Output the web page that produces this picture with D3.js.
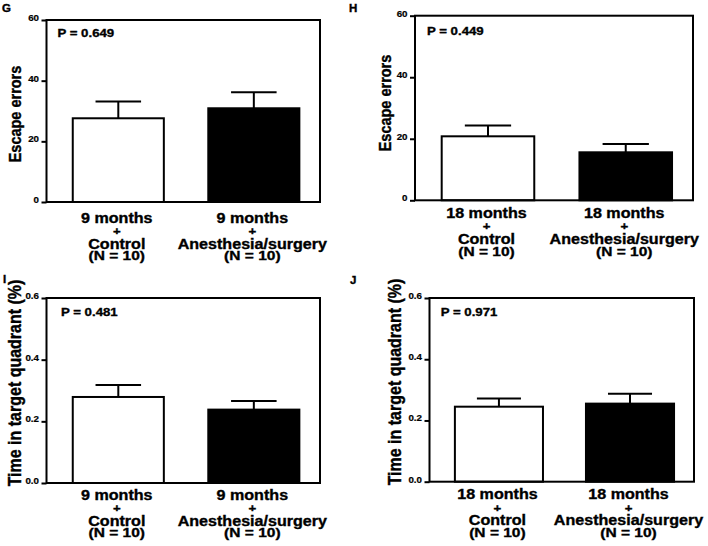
<!DOCTYPE html>
<html>
<head>
<meta charset="utf-8">
<script src="https://cdn.jsdelivr.net/npm/d3@7"></script>
<style>
  html, body { margin: 0; padding: 0; background: #fff; }
  svg { display: block; }
  text { font-family: "Liberation Sans", Arial, Helvetica, sans-serif; font-weight: bold; fill: #000;
         stroke: #000; stroke-width: 0.35px; }
</style>
</head>
<body>
<svg id="chart" width="708" height="546"></svg>
<script>
// ---------------- DATA ----------------
const groups9 = [["9 months", "+", "Control", "(N = 10)"], ["9 months", "+", "Anesthesia/surgery", "(N = 10)"]];
const groups18 = [["18 months", "+", "Control", "(N = 10)"], ["18 months", "+", "Anesthesia/surgery", "(N = 10)"]];

const escape9Mean = [27.6, 30.9];
const escape9Sem = [5.5, 5.3];
const escape18Mean = [20.8, 15.6];
const escape18Sem = [3.5, 2.7];
const time9Mean = [0.279, 0.238];
const time9Sem = [0.039, 0.028];
const time18Mean = [0.245, 0.255];
const time18Sem = [0.027, 0.032];

const escapeTicks = [0, 20, 40, 60];
const timeTicks = [0, 0.2, 0.4, 0.6];
const pLabels = ["P = 0.649", "P = 0.449", "P = 0.481", "P = 0.971"];
const panelLetters = ["G", "H", "I", "J"];
const yTitles = ["Escape errors", "Escape errors", "Time in target quadrant (%)", "Time in target quadrant (%)"];
const barFills = ["#fff", "#000"];

// ---------------- LAYOUT ----------------
const SX = 1.15; // horizontal stretch of the source figure
const panels = [
  { letter: panelLetters[0], groups: groups9, mean: escape9Mean, sem: escape9Sem, ticks: escapeTicks, fmt: d3.format("d"),
    title: yTitles[0], p: pLabels[0],
    x0: 46.5, x1: 320, yTop: 20, yBot: 202, lx: 2, ly: 12,
    tx: 20.5, ty: 114, tSize: 14.5, px: 11, py: 16.8, cy: 20.7 },
  { letter: panelLetters[1], groups: groups18, mean: escape18Mean, sem: escape18Sem, ticks: escapeTicks, fmt: d3.format("d"),
    title: yTitles[1], p: pLabels[1],
    x0: 415, x1: 693, yTop: 15.7, yBot: 200.3, lx: 349, ly: 12,
    tx: 391, ty: 103, tSize: 14.5, px: 12, py: 19.3, cy: 17.7 },
  { letter: panelLetters[2], groups: groups9, mean: time9Mean, sem: time9Sem, ticks: timeTicks, fmt: d3.format(".1f"),
    title: yTitles[2], p: pLabels[2],
    x0: 46.5, x1: 320, yTop: 298, yBot: 483, lx: 3, ly: 283,
    tx: 20.5, ty: 383, tSize: 16, px: 14.5, py: 18.3, cy: 16.7 },
  { letter: panelLetters[3], groups: groups18, mean: time18Mean, sem: time18Sem, ticks: timeTicks, fmt: d3.format(".1f"),
    title: yTitles[3], p: pLabels[3],
    x0: 429.5, x1: 694, yTop: 298, yBot: 481.7, lx: 350, ly: 284,
    tx: 401, ty: 382, tSize: 16, px: 11.2, py: 18.3, cy: 17.6 }
];

const lineOffsets = [0, 12.2, 25.8, 37.6];
const lineSizes = [14, 11.5, 14, 13.5];

const svg = d3.select("#chart");

function stretchedText(parent, x, y, str, size, anchor) {
  const g = parent.append("g").attr("transform", `translate(${x},${y}) scale(${SX},1)`);
  g.append("text").attr("x", 0).attr("y", 0)
    .attr("text-anchor", anchor || "start")
    .style("font-size", size + "px")
    .text(str);
  return g;
}

panels.forEach(P => {
  const g = svg.append("g");
  const y = d3.scaleLinear().domain([0, P.ticks[P.ticks.length - 1]]).range([P.yBot, P.yTop]);
  const x = d3.scaleBand().domain([0, 1]).range([P.x0, P.x1])
    .paddingInner(0.328).paddingOuter(0.173).align(0.56);

  // bars
  g.selectAll("rect.bar").data(P.mean).enter().append("rect")
    .attr("class", "bar")
    .attr("x", (d, i) => x(i))
    .attr("y", d => y(d))
    .attr("width", x.bandwidth())
    .attr("height", d => y(0) - y(d))
    .attr("fill", (d, i) => barFills[i])
    .attr("stroke", "#000").attr("stroke-width", 2);

  // error bars (upper only)
  const eb = g.selectAll("g.err").data(P.mean).enter().append("g").attr("class", "err");
  eb.append("line")
    .attr("x1", (d, i) => x(i) + x.bandwidth() / 2)
    .attr("x2", (d, i) => x(i) + x.bandwidth() / 2)
    .attr("y1", d => y(d))
    .attr("y2", (d, i) => y(d + P.sem[i]))
    .attr("stroke", "#000").attr("stroke-width", 2);
  eb.append("line")
    .attr("x1", (d, i) => x(i) + x.bandwidth() / 4)
    .attr("x2", (d, i) => x(i) + x.bandwidth() * 3 / 4)
    .attr("y1", (d, i) => y(d + P.sem[i]))
    .attr("y2", (d, i) => y(d + P.sem[i]))
    .attr("stroke", "#000").attr("stroke-width", 2);

  // frame
  g.append("rect")
    .attr("x", P.x0).attr("y", y.range()[1])
    .attr("width", P.x1 - P.x0).attr("height", y.range()[0] - y.range()[1])
    .attr("fill", "none").attr("stroke", "#000").attr("stroke-width", 2);

  // y axis
  const ax = g.append("g").attr("transform", `translate(${P.x0},0)`)
    .call(d3.axisLeft(y).tickValues(P.ticks).tickFormat(P.fmt).tickSize(5).tickPadding(2));
  ax.attr("font-family", null).attr("font-size", null);
  ax.select(".domain").remove();
  ax.selectAll(".tick line").attr("stroke", "#000").attr("stroke-width", 2);
  ax.selectAll(".tick text")
    .attr("x", 0).attr("dy", "0.05em")
    .attr("fill", "#000")
    .attr("transform", `translate(-7.5,0) scale(${SX},1)`)
    .style("font-size", "8.5px").style("stroke-width", "0.2px");

  // y title
  g.append("g").attr("transform", `translate(${P.tx},${P.ty}) scale(${SX},1) rotate(-90)`)
    .append("text").attr("text-anchor", "middle")
    .style("font-size", P.tSize + "px")
    .text(P.title);

  // P value
  stretchedText(g, P.x0 + P.px, P.yTop + P.py, P.p, 11.5, "start");

  // panel letter
  stretchedText(g, P.lx, P.ly, P.letter, 10, "start");

  // category labels
  P.groups.forEach((lines, i) => {
    const cx = x(i) + x.bandwidth() / 2 - 1.5;
    lines.forEach((ln, k) => {
      stretchedText(g, cx, P.yBot + P.cy + lineOffsets[k], ln, lineSizes[k], "middle");
    });
  });
});
</script>
</body>
</html>
